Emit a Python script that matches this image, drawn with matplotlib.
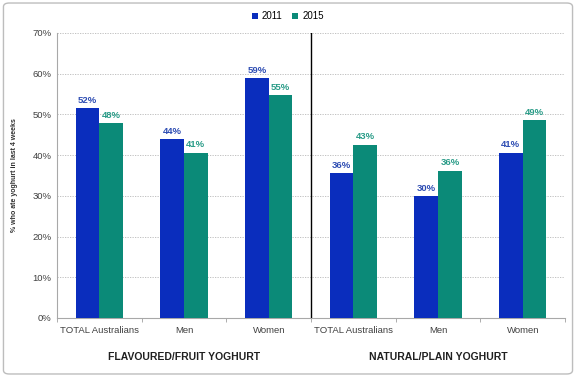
import matplotlib.pyplot as plt
import numpy as np
from matplotlib.patches import FancyBboxPatch

plt.rcParams['font.family'] = ['Liberation Sans', 'DejaVu Sans']

# data
categories = ["TOTAL Australians", "Men", "Women", "TOTAL Australians", "Men", "Women"]
groups = ["FLAVOURED/FRUIT YOGHURT", "NATURAL/PLAIN YOGHURT"]
vals_2011 = [51.6, 44.0, 59.0, 35.6, 30.0, 40.6]
vals_2015 = [47.9, 40.6, 54.8, 42.6, 36.2, 48.6]
years = ["2011", "2015"]

blue = "#0a2dbd"
teal = "#0b8a78"

fig = plt.figure(figsize=(5.76, 3.77), dpi=100)
ax = fig.add_axes([0.099, 0.1565, 0.882, 0.756])

x = np.arange(len(categories))
w = 0.28
b1 = ax.bar(x - w / 2, vals_2011, w, color=blue, label=years[0], zorder=3)
b2 = ax.bar(x + w / 2, vals_2015, w, color=teal, label=years[1], zorder=3)

for rect, v in zip(b1, vals_2011):
    ax.text(rect.get_x() + rect.get_width() / 2, v + 0.8, f"{round(v)}%",
            ha="center", va="bottom", fontsize=6.8, fontweight="bold", color="#2e4db3")
for rect, v in zip(b2, vals_2015):
    ax.text(rect.get_x() + rect.get_width() / 2, v + 0.8, f"{round(v)}%",
            ha="center", va="bottom", fontsize=6.8, fontweight="bold", color="#2a9c88")

ax.set_xlim(-0.5, 5.5)
ax.set_ylim(0, 70)
ax.set_yticks(np.arange(0, 71, 10))
ax.set_yticklabels([f"{t}%" for t in range(0, 71, 10)], fontsize=6.8, color="#404040")
ax.yaxis.grid(True, linestyle=(0, (1.5, 1.5)), color="#b8b8b8", linewidth=0.6, zorder=0)

ax.set_xticks(x)
ax.set_xticklabels(categories, fontsize=6.8, color="#404040")
ax.tick_params(axis="x", length=0, pad=6)
ax.set_xticks(np.arange(-0.5, 6, 1), minor=True)
ax.tick_params(axis="x", which="minor", length=3, color="#a0a0a0")
ax.tick_params(axis="y", length=0, pad=4)

for s in ["top", "right"]:
    ax.spines[s].set_visible(False)
ax.spines["left"].set_color("#a8a8a8")
ax.spines["bottom"].set_color("#a8a8a8")

# separator between the two yoghurt groups
ax.axvline(2.5, color="black", linewidth=1.0, zorder=4)

ax.set_ylabel("% who ate yoghurt in last 4 weeks", fontsize=5, fontweight="bold", color="#303030", labelpad=10)

for i, g in enumerate(groups):
    ax.text(1 + 3 * i, -9.6, g, ha="center", va="center", fontsize=7.5, fontweight="bold",
            color="#202020", transform=ax.transData)

fig.legend(handles=[b1, b2], labels=years, loc="center", bbox_to_anchor=(0.5, 0.957), ncol=2,
           frameon=False, fontsize=7, handlelength=0.6, handleheight=0.6, columnspacing=1.0,
           handletextpad=0.4)

border = FancyBboxPatch((0.006, 0.008), 0.988, 0.984, boxstyle="round,pad=0,rounding_size=0.01",
                        transform=fig.transFigure, fill=False, edgecolor="#bdbdbd", linewidth=1.0)
fig.patches.append(border)

fig.savefig("out.png", dpi=100)
